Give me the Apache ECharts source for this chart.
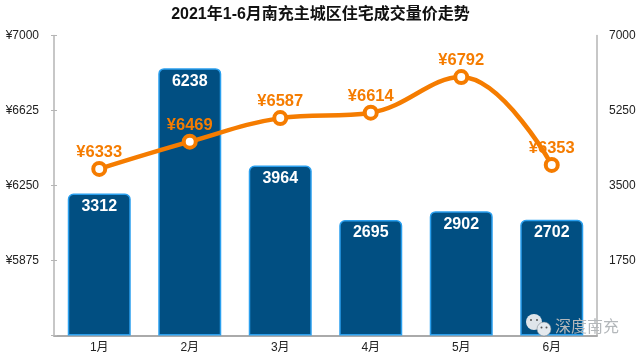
<!DOCTYPE html>
<html>
<head>
<meta charset="utf-8">
<style>
  html, body { margin: 0; padding: 0; background: #fff; }
  #myChart { width: 641px; height: 355px; }
</style>
<script src="https://cdn.jsdelivr.net/npm/echarts@6/dist/echarts.min.js"></script>
</head>
<body>
<div id="myChart"></div>
<script>
var months = ["1月", "2月", "3月", "4月", "5月", "6月"];
var dealCount = [3312, 6238, 3964, 2695, 2902, 2702];
var avgPrice = [6333, 6469, 6587, 6614, 6792, 6353];

var fontFamily = "'Liberation Sans', 'Noto Sans CJK SC', sans-serif";

var myChart = echarts.init(document.getElementById("myChart"));

var option = {
  animation: false,
  textStyle: { fontFamily: fontFamily },
  title: {
    text: "2021年1-6月南充主城区住宅成交量价走势",
    left: "center",
    top: 2,
    textStyle: { fontSize: 16, fontWeight: "bold", color: "#111", fontFamily: fontFamily },
  },
  grid: { left: 54, right: 44, top: 35.5, bottom: 19.5 },
  xAxis: {
    type: "category",
    data: months,
    axisTick: { show: false },
    axisLine: { lineStyle: { color: "#aaa", width: 2 } },
    axisLabel: { color: "#222", fontSize: 12, margin: 6 },
  },
  yAxis: [
    {
      type: "value",
      min: 5500,
      max: 7000,
      interval: 375,
      position: "left",
      axisLine: { show: true, lineStyle: { color: "#b5b5b5", width: 1.5 } },
      axisTick: { show: true, length: 3, lineStyle: { color: "#b5b5b5" } },
      splitLine: { show: false },
      axisLabel: {
        color: "#222",
        fontSize: 12,
        margin: 15,
        padding: [2, 0, 0, 0],
        formatter: function (value) {
          return value === 5500 ? "" : "¥" + value;
        },
      },
    },
    {
      type: "value",
      min: 0,
      max: 7000,
      interval: 1750,
      position: "right",
      axisLine: { show: true, lineStyle: { color: "#b5b5b5", width: 1.5 } },
      axisTick: { show: false },
      splitLine: { show: false },
      axisLabel: {
        color: "#222",
        fontSize: 12,
        margin: 12,
        padding: [2, 0, 0, 0],
        formatter: function (value) {
          return value === 0 ? "" : String(value);
        },
      },
    },
    // only here for the inner half of the left ticks
    {
      type: "value",
      min: 5500,
      max: 7000,
      interval: 375,
      position: "left",
      axisLine: { show: false },
      axisTick: { show: true, inside: true, length: 3, lineStyle: { color: "#b5b5b5" } },
      splitLine: { show: false },
      axisLabel: { show: false },
    },
  ],
  series: [
    {
      name: "成交量",
      type: "bar",
      yAxisIndex: 1,
      barWidth: 63,
      itemStyle: {
        color: "#014f82",
        borderColor: "#2a9fee",
        borderWidth: 1.5,
        borderRadius: [5, 5, 0, 0],
      },
      label: {
        show: true,
        position: "insideTop",
        distance: 5,
        color: "#fff",
        fontSize: 16,
        fontWeight: "bold",
      },
      data: dealCount,
    },
    {
      name: "均价",
      type: "line",
      yAxisIndex: 0,
      smooth: 0.4,
      symbol: "circle",
      symbolSize: 12,
      lineStyle: { color: "#f57c00", width: 4.5 },
      itemStyle: { color: "#fff", borderColor: "#f57c00", borderWidth: 4 },
      label: {
        show: true,
        position: "top",
        distance: 0,
        color: "#f57c00",
        fontSize: 16.5,
        fontWeight: "bold",
        formatter: "¥{c}",
      },
      data: avgPrice,
      z: 5,
    },
  ],
  // wechat style watermark, bottom right
  graphic: [
    { type: "circle", shape: { cx: 534, cy: 322, r: 8 }, style: { fill: "#dfe5ea" }, z: 10 },
    { type: "circle", shape: { cx: 531, cy: 320, r: 1 }, style: { fill: "#555" }, z: 11 },
    { type: "circle", shape: { cx: 537, cy: 320, r: 1 }, style: { fill: "#555" }, z: 11 },
    { type: "circle", shape: { cx: 544, cy: 329, r: 7 }, style: { fill: "#e4e9ee", stroke: "#6f7a82", lineWidth: 0.5 }, z: 11 },
    { type: "circle", shape: { cx: 541.5, cy: 327.5, r: 1 }, style: { fill: "#555" }, z: 12 },
    { type: "circle", shape: { cx: 546.5, cy: 327.5, r: 1 }, style: { fill: "#555" }, z: 12 },
    {
      type: "text",
      x: 555,
      y: 318,
      z: 11,
      style: { text: "深度南充", fill: "#b4b8bb", font: "16px 'Noto Sans CJK SC'" },
    },
  ],
};
myChart.setOption(option);
</script>
</body>
</html>
